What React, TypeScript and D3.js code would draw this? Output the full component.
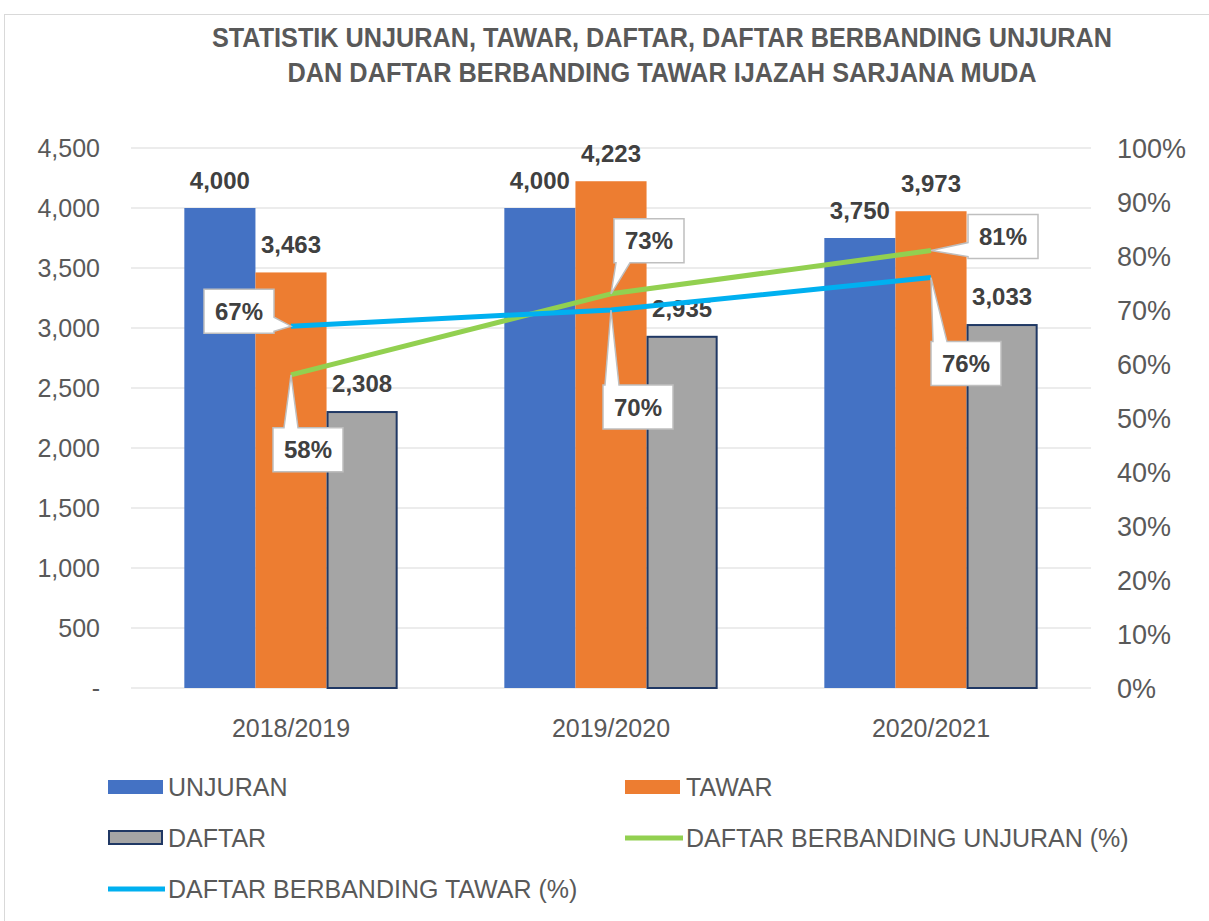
import * as d3 from "d3";

// chart data
const categories = ["2018/2019", "2019/2020", "2020/2021"];
const seriesNames = ["UNJURAN", "TAWAR", "DAFTAR"];
const unjuran = [4000, 4000, 3750];
const tawar = [3463, 4223, 3973];
const daftar = [2308, 2935, 3033];
const daftarVsUnjuran = [0.58, 0.73, 0.81];
const daftarVsTawar = [0.67, 0.7, 0.76];
const leftTicks = [0, 500, 1000, 1500, 2000, 2500, 3000, 3500, 4000, 4500];
const rightTicks = [0, 0.1, 0.2, 0.3, 0.4, 0.5, 0.6, 0.7, 0.8, 0.9, 1];

// callout box offsets from the line point (label placement)
const calloutOffsetUnjuran = [[17, 75], [38, -53], [72, -14]];
const calloutOffsetTawar = [[-52, -15], [27, 97], [35, 86]];

const W = 1209;
const H = 921;
const plot = { left: 131, right: 1091, top: 148, bottom: 688 };

const barColors = ["#4472C4", "#ED7D31", "#A5A5A5"];
const greenLine = "#92D050";
const blueLine = "#00B0F0";
const axisText = "#595959";
const labelText = "#404040";
const font = "'Liberation Sans', Arial, sans-serif";

const calloutPath = (px: number, py: number, cx: number, cy: number) => {
  const hw = 35, hh = 22, base = 7, m = 9;
  const x0 = cx - hw, x1 = cx + hw, y0 = cy - hh, y1 = cy + hh;
  const nx = (px - cx) / hw, ny = (py - cy) / hh;
  const clamp = (v: number, a: number, b: number) => Math.max(a, Math.min(b, v));
  let pts: number[][];
  if (Math.abs(nx) > Math.abs(ny)) {
    const by = clamp(py, y0 + m, y1 - m);
    if (nx > 0) {
      pts = [[x0, y0], [x1, y0], [x1, by - base], [px, py], [x1, by + base], [x1, y1], [x0, y1]];
    } else {
      pts = [[x0, y0], [x1, y0], [x1, y1], [x0, y1], [x0, by + base], [px, py], [x0, by - base]];
    }
  } else {
    const bx = clamp(px, x0 + m, x1 - m);
    if (ny < 0) {
      pts = [[x0, y0], [bx - base, y0], [px, py], [bx + base, y0], [x1, y0], [x1, y1], [x0, y1]];
    } else {
      pts = [[x0, y0], [x1, y0], [x1, y1], [bx + base, y1], [px, py], [bx - base, y1], [x0, y1]];
    }
  }
  return "M" + pts.map((p) => p.join(",")).join("L") + "Z";
};

export default function App() {
  const x = d3
    .scaleBand()
    .domain(categories)
    .range([plot.left, plot.right])
    .paddingInner(1 / 3)
    .paddingOuter(1 / 6);
  const xs = d3.scaleBand().domain(seriesNames).range([0, x.bandwidth()]);
  const y = d3.scaleLinear().domain([0, 4500]).range([plot.bottom, plot.top]);
  const y2 = d3.scaleLinear().domain([0, 1]).range([plot.bottom, plot.top]);
  const fmt = d3.format(",");
  const pct = d3.format(".0%");

  const cx = (c: string) => (x(c) as number) + x.bandwidth() / 2;
  const values = [unjuran, tawar, daftar];

  const line = d3
    .line<number>()
    .x((_, i) => cx(categories[i]))
    .y((d) => y2(d));

  const lineSeries = [
    { values: daftarVsUnjuran, color: greenLine, offsets: calloutOffsetUnjuran },
    { values: daftarVsTawar, color: blueLine, offsets: calloutOffsetTawar },
  ];

  return (
    <svg
      width={W}
      height={H}
      style={{ position: "absolute", left: 0, top: 0, background: "#fff" }}
      fontFamily={font}
    >
      <rect x={4.5} y={14.5} width={W} height={H} fill="#fff" stroke="#d9d9d9" />

      {/* title */}
      <g fill={axisText} fontWeight="bold" fontSize={27} textAnchor="middle" style={{ whiteSpace: "pre" }}>
        <text x={662} y={47} textLength={900} lengthAdjust="spacingAndGlyphs">
          STATISTIK UNJURAN,  TAWAR, DAFTAR, DAFTAR BERBANDING  UNJURAN
        </text>
        <text x={662} y={82} textLength={749} lengthAdjust="spacingAndGlyphs">
          DAN DAFTAR BERBANDING  TAWAR IJAZAH SARJANA MUDA
        </text>
      </g>

      {/* gridlines */}
      {leftTicks.map((t) => (
        <line key={t} x1={plot.left} x2={plot.right} y1={y(t)} y2={y(t)} stroke="#d9d9d9" strokeWidth={1.2} />
      ))}

      {/* left axis */}
      <g fill={axisText} fontSize={25} textAnchor="end" style={{ whiteSpace: "pre" }}>
        {leftTicks.map((t) => (
          <text key={t} x={100} y={y(t)} dy="0.36em">
            {t === 0 ? "-   " : fmt(t)}
          </text>
        ))}
      </g>

      {/* right axis */}
      <g fill={axisText} fontSize={27} textAnchor="start">
        {rightTicks.map((t) => (
          <text key={t} x={1117} y={y2(t)} dy="0.36em">
            {pct(t)}
          </text>
        ))}
      </g>

      {/* x axis labels */}
      <g fill={axisText} fontSize={25} textAnchor="middle">
        {categories.map((c) => (
          <text key={c} x={cx(c)} y={737}>
            {c}
          </text>
        ))}
      </g>

      {/* bars */}
      {categories.map((c) => (
        <g key={c} transform={`translate(${x(c)},0)`}>
          {seriesNames.map((s, si) => {
            const v = values[si][categories.indexOf(c)];
            const isDaftar = s === "DAFTAR";
            return (
              <rect
                key={s}
                x={(xs(s) as number) + (isDaftar ? 1 : 0)}
                y={y(v) + (isDaftar ? 1 : 0)}
                width={xs.bandwidth() - (isDaftar ? 2 : 0)}
                height={y(0) - y(v) - (isDaftar ? 1 : 0)}
                fill={barColors[si]}
                stroke={isDaftar ? "#203864" : "none"}
                strokeWidth={isDaftar ? 2 : 0}
              />
            );
          })}
        </g>
      ))}

      {/* bar labels */}
      <g fill={labelText} fontSize={24} fontWeight="bold" textAnchor="middle">
        {categories.map((c, ci) =>
          seriesNames.map((s, si) => (
            <text
              key={c + s}
              x={(x(c) as number) + (xs(s) as number) + xs.bandwidth() / 2}
              y={y(values[si][ci]) - 19}
            >
              {fmt(values[si][ci])}
            </text>
          ))
        )}
      </g>

      {/* ratio lines */}
      {lineSeries.map((ls, i) => (
        <path key={i} d={line(ls.values) as string} fill="none" stroke={ls.color} strokeWidth={5} strokeLinejoin="round" />
      ))}

      {/* callouts */}
      {lineSeries.map((ls, i) =>
        ls.values.map((v, j) => {
          const px = cx(categories[j]);
          const py = y2(v);
          const bx = px + ls.offsets[j][0];
          const by = py + ls.offsets[j][1];
          return (
            <g key={i + "-" + j}>
              <path d={calloutPath(px, py, bx, by)} fill="#fff" stroke="#bfbfbf" strokeWidth={1.5} />
              <text x={bx} y={by} dy="0.36em" textAnchor="middle" fontSize={24} fontWeight="bold" fill={labelText}>
                {pct(v)}
              </text>
            </g>
          );
        })
      )}

      {/* legend */}
      <g fill={axisText} fontSize={25}>
        <rect x={108} y={780} width={55} height={14} fill={barColors[0]} />
        <text x={168} y={796}>UNJURAN</text>
        <rect x={625} y={780} width={55} height={14} fill={barColors[1]} />
        <text x={686} y={796}>TAWAR</text>
        <rect x={109} y={831} width={53} height={13} fill={barColors[2]} stroke="#203864" strokeWidth={2} />
        <text x={168} y={847}>DAFTAR</text>
        <line x1={625} x2={683} y1={838} y2={838} stroke={greenLine} strokeWidth={5} />
        <text x={686} y={847}>DAFTAR BERBANDING UNJURAN (%)</text>
        <line x1={108} x2={165} y1={889} y2={889} stroke={blueLine} strokeWidth={5} />
        <text x={168} y={898}>DAFTAR BERBANDING TAWAR (%)</text>
      </g>
    </svg>
  );
}
